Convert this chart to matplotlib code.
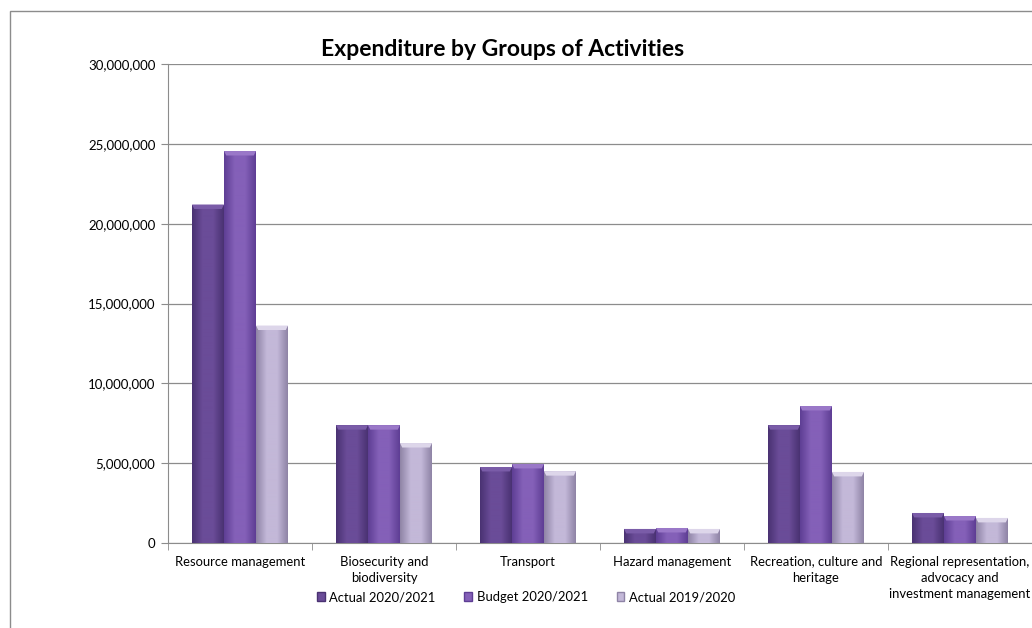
import numpy as np
import matplotlib
matplotlib.use("Agg")
import matplotlib.pyplot as plt
from matplotlib.patches import Patch, Rectangle, Polygon
from matplotlib.colors import LinearSegmentedColormap
from matplotlib.ticker import FuncFormatter, MultipleLocator, FixedLocator

# Data

categories = ["Resource management", "Biosecurity and\nbiodiversity", "Transport",
              "Hazard management", "Recreation, culture and\nheritage",
              "Regional representation,\nadvocacy and\ninvestment management"]
series_names = ["Actual 2020/2021", "Budget 2020/2021", "Actual 2019/2020"]
actual_2021 = [21200000, 7380000, 4760000, 880000, 7380000, 1880000]
budget_2021 = [24550000, 7380000, 4950000, 940000, 8580000, 1690000]
actual_2020 = [13620000, 6260000, 4500000, 880000, 4450000, 1570000]

# dark edge / light middle for each series
shades = [("#4a3272", "#6a4c98"), ("#5e3e94", "#8460b8"), ("#8f84a6", "#c3b8d8")]
tops = ["#7a5ca8", "#9a78c8", "#ddd6ea"]

plt.rcParams['font.family'] = ['Lato', 'DejaVu Sans']

fig = plt.figure(figsize=(10.32, 6.28), dpi=100)
ax = fig.add_axes([168 / 1032, 1 - 543 / 628, 1 - 168 / 1032, (543 - 64) / 628])

# chart border
fig.patches.append(Rectangle((9.5 / 1032, -0.1), 1.1, 1.1 - 11 / 628, transform=fig.transFigure,
                             fill=False, edgecolor="#8c8c8c", linewidth=1))

x = np.arange(len(categories))
width = 1 / 4.5


def gradient_bars(xpos, values, dark, light, top):
    bars = ax.bar(xpos, values, width, color=dark, zorder=2, linewidth=0)
    cmap = LinearSegmentedColormap.from_list("g", [dark, light, light, dark])
    grad = np.linspace(0, 1, 64).reshape(1, -1)
    bevel = 0.28e6
    for b in bars:
        x0, y0 = b.get_x(), b.get_y()
        w, h = b.get_width(), b.get_height()
        im = ax.imshow(grad, extent=(x0, x0 + w, y0, y0 + h), aspect="auto",
                       cmap=cmap, zorder=3, interpolation="bilinear")
        im.set_clip_path(b)
        ax.add_patch(Polygon([(x0, h), (x0 + w, h), (x0 + w * 0.93, h - bevel),
                              (x0 + w * 0.07, h - bevel)], closed=True,
                             facecolor=top, edgecolor="none", zorder=4))
    return bars


all_series = [actual_2021, budget_2021, actual_2020]
for i, vals in enumerate(all_series):
    gradient_bars(x - width + i * width, vals, shades[i][0], shades[i][1], tops[i])

ax.set_xlim(-0.5, len(categories) - 0.5)
ax.set_ylim(0, 30000000)
ax.yaxis.set_major_locator(MultipleLocator(5000000))
ax.yaxis.set_major_formatter(FuncFormatter(lambda v, p: f"{int(v):,}"))
ax.grid(axis="y", color="#8c8c8c", linewidth=0.9, zorder=0)
ax.set_axisbelow(True)

ax.set_xticks(x)
ax.set_xticklabels(categories, fontsize=9.4, linespacing=1.4)
ax.tick_params(axis="x", which="major", length=0, pad=9)
ax.xaxis.set_minor_locator(FixedLocator(np.arange(-0.5, len(categories), 1)))
ax.tick_params(axis="x", which="minor", length=5, color="#8c8c8c")
ax.tick_params(axis="y", length=5, color="#8c8c8c", labelsize=9.5, pad=4)

for side in ["top", "right"]:
    ax.spines[side].set_visible(False)
for side in ["left", "bottom"]:
    ax.spines[side].set_color("#8c8c8c")

fig.text(503 / 1032, 1 - 50 / 628, "Expenditure by Groups of Activities",
         ha="center", va="center", fontsize=16.5, fontweight="bold")

handles = [Patch(facecolor=shades[i][1], edgecolor=shades[i][0]) for i in range(3)]
fig.legend(handles, series_names, loc="center", bbox_to_anchor=(526 / 1032, 1 - 597 / 628),
           ncol=3, frameon=False, fontsize=9.4, handlelength=0.6, handleheight=0.6,
           handletextpad=0.35, columnspacing=2.2)

fig.savefig("out.png", dpi=100)
